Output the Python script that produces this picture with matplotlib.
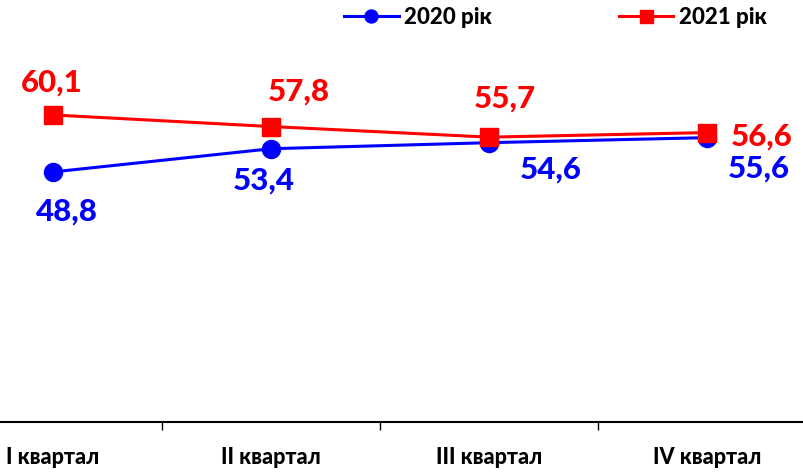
import numpy as np
import matplotlib
matplotlib.use('Agg')
import matplotlib.pyplot as plt

plt.rcParams['font.family'] = ['Lato', 'DejaVu Sans']

quarters = ['I квартал', 'II квартал', 'III квартал', 'IV квартал']
values_2020 = [48.8, 53.4, 54.6, 55.6]
values_2021 = [60.1, 57.8, 55.7, 56.6]
labels_2020 = ['48,8', '53,4', '54,6', '55,6']
labels_2021 = ['60,1', '57,8', '55,7', '56,6']

# label offsets in pixels (dx, dy)
offs_2020 = [(14, -40), (-7, -32), (62, -27), (52, -31)]
offs_2021 = [(-1, 32), (28, 35), (16, 39), (55, -4)]

blue = '#0000FF'
red = '#FF0000'

fig = plt.figure(figsize=(8.04, 4.73), dpi=100)
ax = fig.add_axes([-56 / 804, 51 / 473, 872 / 804, 422 / 473])

x = np.arange(len(quarters))
ax.plot(x, values_2020, color=blue, lw=2.2, marker='o', ms=13, label='2020 рік')
ax.plot(x, values_2021, color=red, lw=2.2, marker='s', ms=13, label='2021 рік')

for xi, v, t, (dx, dy) in zip(x, values_2020, labels_2020, offs_2020):
    ax.annotate(t, (xi, v), xytext=(dx, dy), textcoords='offset pixels',
                ha='center', va='center', color=blue, fontsize=22.5, fontweight='black')
for xi, v, t, (dx, dy) in zip(x, values_2021, labels_2021, offs_2021):
    ax.annotate(t, (xi, v), xytext=(dx, dy), textcoords='offset pixels',
                ha='center', va='center', color=red, fontsize=22.5, fontweight='black')

ax.set_xlim(-0.5, 3.5)
ax.set_ylim(-0.8, 82.9)
ax.set_yticks([])
for s in ['left', 'right', 'top']:
    ax.spines[s].set_visible(False)
ax.spines['bottom'].set_linewidth(1.5)

ax.set_xticks(x)
ax.set_xticklabels(quarters, fontsize=15.5, fontweight='black')
ax.set_xticks([0.5, 1.5, 2.5], minor=True)
ax.tick_params(axis='x', which='major', length=0, pad=18)
ax.tick_params(axis='x', which='minor', length=6, width=1)

leg = ax.legend(loc='upper left', bbox_to_anchor=(389 / 872, 1.01), ncol=2, frameon=False,
                prop={'weight': 'black', 'size': 16}, handlelength=2.45, columnspacing=5.7,
                handletextpad=0.25, borderaxespad=0.1, markerscale=0.72)

fig.savefig('out.png', dpi=100)
